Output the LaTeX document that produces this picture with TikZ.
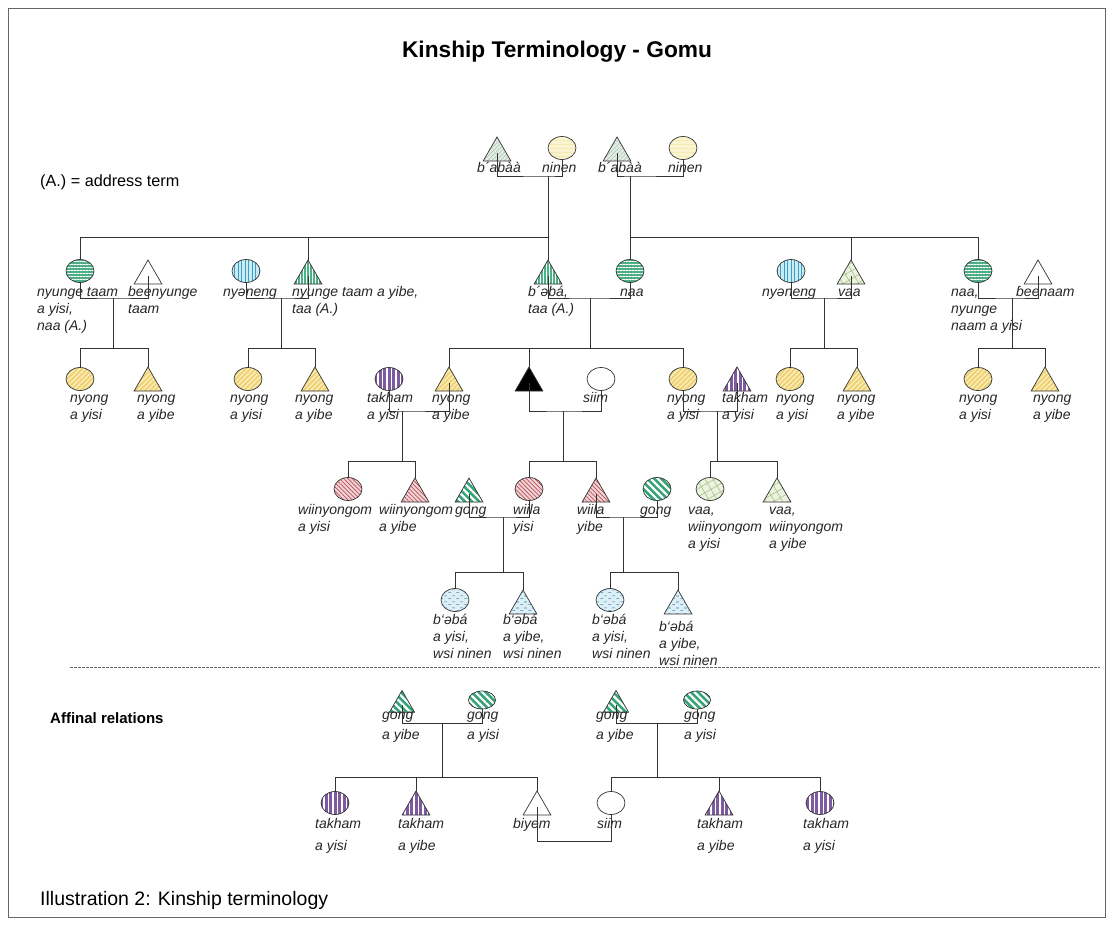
\documentclass[tikz,border=0pt]{standalone}
\usepackage{fontspec}
\setmainfont{Liberation Sans}
\usetikzlibrary{shapes.geometric,patterns.meta}
\definecolor{nyY}{HTML}{F0D274}
\definecolor{nyL}{HTML}{FCF1C4}
\definecolor{grn}{HTML}{4EAE85}
\definecolor{gongG}{HTML}{35A377}
\definecolor{bluF}{HTML}{C9EBF4}
\definecolor{bluL}{HTML}{3E9CC2}
\definecolor{purF}{HTML}{7E5A9E}
\definecolor{pnkF}{HTML}{F5D3D3}
\definecolor{pnkL}{HTML}{B0505E}
\definecolor{vaaC}{HTML}{EBF3DE}
\definecolor{vaaL}{HTML}{A9BF8C}
\definecolor{babF}{HTML}{E3EDE5}
\definecolor{babL}{HTML}{A8C4B0}
\definecolor{ninF}{HTML}{FAF5D0}
\definecolor{ninL}{HTML}{EFE3A0}
\definecolor{dshF}{HTML}{DCEFF7}
\definecolor{dshL}{HTML}{3A7FA0}
\pgfdeclarepattern{
  name=HDash, type=uncolored,
  bottom left={\pgfpoint{0pt}{0pt}}, top right={\pgfpoint{8pt}{6pt}},
  tile size={\pgfpoint{8pt}{6pt}},
  code={\pgfsetlinewidth{0.6pt}
    \pgfpathmoveto{\pgfpoint{0.5pt}{1.5pt}}\pgfpathlineto{\pgfpoint{3.5pt}{1.5pt}}
    \pgfpathmoveto{\pgfpoint{4.5pt}{4.5pt}}\pgfpathlineto{\pgfpoint{7.5pt}{4.5pt}}
    \pgfusepath{stroke}}
}
\tikzset{
  shp/.style={draw=black!80, line width=0.7pt, inner sep=0pt, outer sep=0pt},
  fem/.style={shp, ellipse, minimum width=28pt, minimum height=23pt},
  femS/.style={shp, ellipse, minimum width=27pt, minimum height=18pt},
  mal/.style={shp, regular polygon, regular polygon sides=3, minimum size=32pt},
  malS/.style={shp, regular polygon, regular polygon sides=3, minimum size=29pt},
  conn/.style={draw=black!80, line width=0.9pt},
  lbl/.style={font=\itshape\fontsize{14}{17}\selectfont, align=left, anchor=base west, inner sep=0pt, text=black!85},
  lblA/.style={lbl, font=\itshape\fontsize{14}{20.5}\selectfont},
  lblB/.style={lbl, font=\itshape\fontsize{14}{22}\selectfont},
  nyongF/.style={preaction={fill=nyY}, pattern={Lines[angle=45,distance=3.5pt,line width=1.2pt]}, pattern color=nyL},
  greenH/.style={preaction={fill=grn}, pattern={Lines[angle=0,distance=3pt,line width=0.9pt]}, pattern color=white},
  greenV/.style={preaction={fill=grn}, pattern={Lines[angle=90,distance=3pt,line width=0.9pt]}, pattern color=white},
  blueV/.style={preaction={fill=bluF}, pattern={Lines[angle=90,distance=3.5pt,line width=0.6pt]}, pattern color=bluL},
  purpleV/.style={preaction={fill=purF}, pattern={Lines[angle=90,distance=4.5pt,line width=1.8pt]}, pattern color=white},
  pinkF/.style={preaction={fill=pnkF}, pattern={Lines[angle=-45,distance=3pt,line width=0.7pt]}, pattern color=pnkL},
  gongF/.style={preaction={fill=gongG}, pattern={Lines[angle=-45,distance=5pt,line width=2.2pt]}, pattern color=white},
  vaaF/.style={preaction={fill=vaaC}, pattern={Hatch[angle=30,distance=7pt,line width=0.6pt]}, pattern color=vaaL},
  babF/.style={preaction={fill=babF}, pattern={Lines[angle=45,distance=3pt,line width=0.5pt]}, pattern color=babL},
  ninF/.style={preaction={fill=ninF}, pattern={Lines[angle=0,distance=4pt,line width=0.6pt]}, pattern color=ninL},
  dashF/.style={preaction={fill=dshF}, pattern=HDash, pattern color=dshL},
  blackF/.style={fill=black},
  whiteF/.style={fill=white},
}
\begin{document}
\begin{tikzpicture}[x=1pt,y=-1pt]
\useasboundingbox (0,0) rectangle (1113,924);
\draw[black!60, line width=0.8pt] (8,8) rectangle (1105,917);

% texts
\node[font=\bfseries\fontsize{22.7}{26}\selectfont] (title) at (557,52) {Kinship Terminology - Gomu};
\node[font=\fontsize{16.2}{19}\selectfont, anchor=west, inner sep=0pt] (legend) at (40,182) {(A.) = address term};
\node[font=\bfseries\fontsize{15}{18}\selectfont, anchor=west, inner sep=0pt] (affinal) at (50,718) {Affinal relations};
\node[font=\fontsize{19.5}{22}\selectfont, anchor=west, inner sep=0pt] (caption) at (40,900) {Illustration 2: Kinship terminology};

% separator
\coordinate (sepL) at (70,667);
\coordinate (sepR) at (1100,667);
\draw[black!60, line width=0.7pt, dash pattern=on 2.5pt off 1.5pt] (sepL) -- (sepR);

% ---------------- generation 1
\node[mal, babF] (g1t1) at (497,153) {};
\node[fem, ninF] (g1e1) at (562,148) {};
\node[mal, babF] (g1t2) at (617,153) {};
\node[fem, ninF] (g1e2) at (683,148) {};
\node[lbl] (lg1a) at (477,172) {b´abàà};
\node[lbl] (lg1b) at (542,172) {ninen};
\node[lbl] (lg1c) at (598,172) {b´abàà};
\node[lbl] (lg1d) at (668,172) {ninen};

% ---------------- generation 2
\node[fem, greenH] (nte) at (80,271) {};
\node[mal, whiteF] (bnt) at (148,276) {};
\node[fem, blueV] (nye1) at (246,271) {};
\node[mal, greenV] (ntt) at (308,276) {};
\node[mal, greenV] (beba) at (548,276) {};
\node[fem, greenH] (naa1) at (630,271) {};
\node[fem, blueV] (nye2) at (791,271) {};
\node[mal, vaaF] (vaa1) at (851,276) {};
\node[fem, greenH] (naa2) at (978,271) {};
\node[mal, whiteF] (been) at (1038,276) {};
\node[lbl] (lnte) at (37,330) {nyunge taam\\a yisi,\\naa (A.)};
\node[lbl] (lbnt) at (128,313) {beenyunge\\taam};
\node[lbl] (lnye1) at (223,296) {nyəneng};
\node[lbl] (lntt) at (292,313) {nyunge taam a yibe,\\taa (A.)};
\node[lbl] (lbeba) at (528,313) {b´əbá,\\taa (A.)};
\node[lbl] (lnaa1) at (620,296) {naa};
\node[lbl] (lnye2) at (762,296) {nyəneng};
\node[lbl] (lvaa1) at (838,296) {vaa};
\node[lbl] (lnaa2) at (951,330) {naa,\\nyunge\\naam a yisi};
\node[lbl] (lbeen) at (1016,296) {ɓeenaam};

% ---------------- generation 3
\node[fem, nyongF] (c1e) at (80,379) {};
\node[mal, nyongF] (c1t) at (148,383) {};
\node[fem, nyongF] (c2e) at (248,379) {};
\node[mal, nyongF] (c2t) at (315,383) {};
\node[fem, purpleV] (tak1) at (389,379) {};
\node[mal, nyongF] (ny3t) at (449,383) {};
\node[mal, blackF] (ego) at (529,383) {};
\node[fem, whiteF] (siim1) at (601,379) {};
\node[fem, nyongF] (ny3e) at (683,379) {};
\node[mal, purpleV] (tak2) at (737,383) {};
\node[fem, nyongF] (c4e) at (790,379) {};
\node[mal, nyongF] (c4t) at (857,383) {};
\node[fem, nyongF] (c5e) at (978,379) {};
\node[mal, nyongF] (c5t) at (1045,383) {};
\node[lbl] (lc1e) at (70,419) {nyong\\a yisi};
\node[lbl] (lc1t) at (137,419) {nyong\\a yibe};
\node[lbl] (lc2e) at (230,419) {nyong\\a yisi};
\node[lbl] (lc2t) at (295,419) {nyong\\a yibe};
\node[lbl] (ltak1) at (367,419) {takham\\a yisi};
\node[lbl] (lny3t) at (432,419) {nyong\\a yibe};
\node[lbl] (lsiim1) at (583,402) {siim};
\node[lbl] (lny3e) at (667,419) {nyong\\a yisi};
\node[lbl] (ltak2) at (722,419) {takham\\a yisi};
\node[lbl] (lc4e) at (776,419) {nyong\\a yisi};
\node[lbl] (lc4t) at (837,419) {nyong\\a yibe};
\node[lbl] (lc5e) at (959,419) {nyong\\a yisi};
\node[lbl] (lc5t) at (1033,419) {nyong\\a yibe};

% ---------------- generation 4
\node[fem, pinkF] (wy1) at (348,489) {};
\node[mal, pinkF] (wy2) at (415,494) {};
\node[mal, gongF] (gong1) at (469,494) {};
\node[fem, pinkF] (wiila1) at (529,489) {};
\node[mal, pinkF] (wiila2) at (596,494) {};
\node[fem, gongF] (gong2) at (657,489) {};
\node[fem, vaaF] (vaa2) at (710,489) {};
\node[mal, vaaF] (vaa3) at (777,494) {};
\node[lbl] (lwy1) at (298,531) {wiinyongom\\a yisi};
\node[lbl] (lwy2) at (379,531) {wiinyongom\\a yibe};
\node[lbl] (lgong1) at (455,514) {gong};
\node[lbl] (lwiila1) at (513,531) {wiila\\yisi};
\node[lbl] (lwiila2) at (577,531) {wiila\\yibe};
\node[lbl] (lgong2) at (640,514) {gong};
\node[lbl] (lvaa2) at (688,548) {vaa,\\wiinyongom\\a yisi};
\node[lbl] (lvaa3) at (769,548) {vaa,\\wiinyongom\\a yibe};

% ---------------- generation 5
\node[fem, dashF] (d1) at (455,600) {};
\node[mal, dashF] (d2) at (523,606) {};
\node[fem, dashF] (d3) at (610,600) {};
\node[mal, dashF] (d4) at (678,606) {};
\node[lbl] (ld1) at (433,658) {b`əbá\\a yisi,\\wsi ninen};
\node[lbl] (ld2) at (503,658) {b`əbá\\a yibe,\\wsi ninen};
\node[lbl] (ld3) at (592,658) {b`əbá\\a yisi,\\wsi ninen};
\node[lbl] (ld4) at (659,665) {b`əbá\\a yibe,\\wsi ninen};

% ---------------- affinal
\node[malS, gongF] (ag1) at (402,705) {};
\node[femS, gongF] (ag2) at (482,700) {};
\node[malS, gongF] (ag3) at (616,705) {};
\node[femS, gongF] (ag4) at (697,700) {};
\node[lblA] (lag1) at (382,739.5) {gong\\a yibe};
\node[lblA] (lag2) at (467,739.5) {gong\\a yisi};
\node[lblA] (lag3) at (596,739.5) {gong\\a yibe};
\node[lblA] (lag4) at (684,739.5) {gong\\a yisi};
\node[fem, purpleV] (at1) at (335,803) {};
\node[mal, purpleV] (at2) at (416,807) {};
\node[mal, whiteF] (biyem) at (537,807) {};
\node[fem, whiteF] (asiim) at (611,803) {};
\node[mal, purpleV] (at3) at (719,807) {};
\node[fem, purpleV] (at4) at (820,803) {};
\node[lblB] (lat1) at (315,850) {takham\\a yisi};
\node[lblB] (lat2) at (398,850) {takham\\a yibe};
\node[lblB] (lbiyem) at (513,828) {biyem};
\node[lblB] (lasiim) at (597,828) {siim};
\node[lblB] (lat3) at (697,850) {takham\\a yibe};
\node[lblB] (lat4) at (803,850) {takham\\a yisi};

% ---------------- coordinates for junctions
\coordinate (m1a) at (548,176); \coordinate (b1a) at (548,237);
\coordinate (m1b) at (630,176); \coordinate (b1b) at (630,237);
\coordinate (m2a) at (113,298); \coordinate (b2a) at (113,348);
\coordinate (m2b) at (281,298); \coordinate (b2b) at (281,348);
\coordinate (m2c) at (590,298); \coordinate (b2c) at (590,348);
\coordinate (m2d) at (824,298); \coordinate (b2d) at (824,348);
\coordinate (m2e) at (1012,298); \coordinate (b2e) at (1012,348);
\coordinate (m3a) at (402,411); \coordinate (b3a) at (402,461);
\coordinate (m3b) at (563,411); \coordinate (b3b) at (563,461);
\coordinate (m3c) at (717,411); \coordinate (b3c) at (717,461);
\coordinate (m4a) at (503,517); \coordinate (b4a) at (503,572);
\coordinate (m4b) at (623,517); \coordinate (b4b) at (623,572);
\coordinate (ma1) at (442,723); \coordinate (ba1) at (442,777);
\coordinate (ma2) at (657,723); \coordinate (ba2) at (657,777);
\coordinate (ma3) at (574,841);

% ---------------- connectors
% gen1
\draw[conn] (g1t1.center) |- (m1a) -| (g1e1.south);
\draw[conn] (m1a) -- (b1a);
\draw[conn] (b1a) -| (nte.north);
\draw[conn] (b1a) -| (ntt.corner 1);
\draw[conn] (b1a) -- (beba.corner 1);
\draw[conn] (g1t2.center) |- (m1b) -| (g1e2.south);
\draw[conn] (m1b) -- (b1b);
\draw[conn] (b1b) -- (naa1.north);
\draw[conn] (b1b) -| (vaa1.corner 1);
\draw[conn] (b1b) -| (naa2.north);
% gen2
\draw[conn] (nte.south) |- (m2a) -| (bnt.center);
\draw[conn] (m2a) -- (b2a);
\draw[conn] (b2a) -| (c1e.north);
\draw[conn] (b2a) -| (c1t.corner 1);
\draw[conn] (nye1.south) |- (m2b) -| (ntt.center);
\draw[conn] (m2b) -- (b2b);
\draw[conn] (b2b) -| (c2e.north);
\draw[conn] (b2b) -| (c2t.corner 1);
\draw[conn] (beba.center) |- (m2c) -| (naa1.south);
\draw[conn] (m2c) -- (b2c);
\draw[conn] (b2c) -| (ny3t.corner 1);
\draw[conn] (b2c) -| (ego.corner 1);
\draw[conn] (b2c) -| (ny3e.north);
\draw[conn] (nye2.south) |- (m2d) -| (vaa1.center);
\draw[conn] (m2d) -- (b2d);
\draw[conn] (b2d) -| (c4e.north);
\draw[conn] (b2d) -| (c4t.corner 1);
\draw[conn] (naa2.south) |- (m2e) -| (been.center);
\draw[conn] (m2e) -- (b2e);
\draw[conn] (b2e) -| (c5e.north);
\draw[conn] (b2e) -| (c5t.corner 1);
% gen3
\draw[conn] (tak1.south) |- (m3a) -| (ny3t.center);
\draw[conn] (m3a) -- (b3a);
\draw[conn] (b3a) -| (wy1.north);
\draw[conn] (b3a) -| (wy2.corner 1);
\draw[conn] (ego.center) |- (m3b) -| (siim1.south);
\draw[conn] (m3b) -- (b3b);
\draw[conn] (b3b) -| (wiila1.north);
\draw[conn] (b3b) -| (wiila2.corner 1);
\draw[conn] (ny3e.south) |- (m3c) -| (tak2.center);
\draw[conn] (m3c) -- (b3c);
\draw[conn] (b3c) -| (vaa2.north);
\draw[conn] (b3c) -| (vaa3.corner 1);
% gen4
\draw[conn] (gong1.center) |- (m4a) -| (wiila1.south);
\draw[conn] (m4a) -- (b4a);
\draw[conn] (b4a) -| (d1.north);
\draw[conn] (b4a) -| (d2.corner 1);
\draw[conn] (wiila2.center) |- (m4b) -| (gong2.south);
\draw[conn] (m4b) -- (b4b);
\draw[conn] (b4b) -| (d3.north);
\draw[conn] (b4b) -| (d4.corner 1);
% affinal
\draw[conn] (ag1.center) |- (ma1) -| (ag2.south);
\draw[conn] (ma1) -- (ba1);
\draw[conn] (ba1) -| (at1.north);
\draw[conn] (ba1) -| (at2.corner 1);
\draw[conn] (ba1) -| (biyem.corner 1);
\draw[conn] (ag3.center) |- (ma2) -| (ag4.south);
\draw[conn] (ma2) -- (ba2);
\draw[conn] (ba2) -| (asiim.north);
\draw[conn] (ba2) -| (at3.corner 1);
\draw[conn] (ba2) -| (at4.north);
\draw[conn] (biyem.center) |- (ma3) -| (asiim.south);
\end{tikzpicture}
\end{document}
